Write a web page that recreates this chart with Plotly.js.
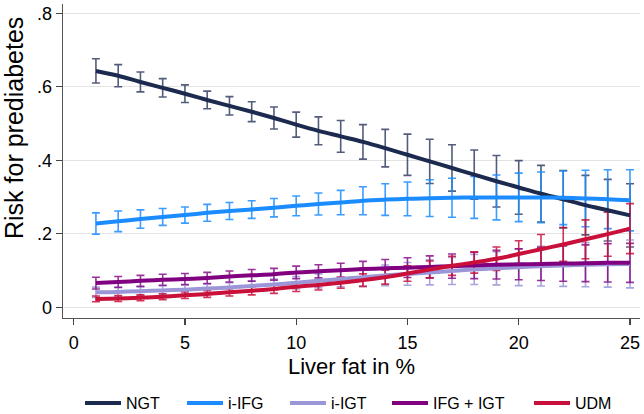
<!DOCTYPE html>
<html>
<head>
<meta charset="utf-8">
<script src="https://cdn.plot.ly/plotly-3.0.1.min.js"></script>
<style>html,body{margin:0;padding:0;background:#fff;}#chart{width:644px;height:414px;}</style>
</head>
<body>
<div id="chart"></div>
<script>
// Liver fat (%) values
const liverFat = [1,2,3,4,5,6,7,8,9,10,11,12,13,14,15,16,17,18,19,20,21,22,23,24,25];

// Predicted risk for each group and 95% CI half-widths
const ngt     = [.643,.630,.613,.597,.581,.564,.548,.532,.515,.497,.480,.465,.450,.433,.415,.397,.379,.361,.343,.326,.309,.294,.278,.264,.250];
const ngtErr  = [.033,.030,.027,.025,.024,.024,.025,.027,.030,.034,.038,.043,.047,.051,.056,.060,.063,.067,.070,.073,.077,.078,.081,.084,.086];

const iIFG    = [.228,.234,.240,.246,.251,.257,.262,.266,.271,.276,.281,.285,.290,.293,.295,.297,.298,.299,.299,.299,.299,.298,.296,.294,.291];
const iIFGErr = [.029,.028,.025,.023,.022,.023,.023,.024,.025,.027,.030,.033,.038,.043,.046,.050,.053,.057,.061,.066,.069,.073,.077,.080,.083];

const iIGT    = [.041,.042,.044,.046,.048,.051,.054,.058,.062,.067,.072,.077,.082,.087,.091,.095,.099,.103,.106,.109,.112,.114,.116,.117,.118];
const iIGTErr = [.014,.013,.012,.012,.012,.012,.013,.014,.015,.017,.019,.021,.025,.028,.031,.034,.037,.041,.045,.050,.054,.057,.060,.062,.065];

const ifgIgt    = [.066,.069,.072,.075,.077,.080,.084,.087,.090,.095,.098,.101,.104,.106,.108,.110,.112,.114,.116,.117,.118,.119,.120,.121,.121];
const ifgIgtErr = [.016,.015,.015,.015,.015,.015,.015,.016,.016,.017,.018,.019,.021,.024,.027,.030,.033,.036,.039,.042,.045,.048,.050,.052,.053];

const udm    = [.023,.024,.026,.029,.033,.036,.041,.045,.050,.056,.061,.067,.074,.082,.092,.103,.113,.122,.132,.145,.158,.171,.185,.199,.214];
const udmErr = [.008,.008,.008,.008,.009,.009,.010,.011,.012,.013,.014,.015,.017,.019,.021,.023,.026,.029,.032,.036,.040,.046,.053,.060,.068];

const groupNames = ['NGT','i-IFG','i-IGT','IFG + IGT','UDM'];
const yTickVals = [0,.2,.4,.6,.8];
const yTickText = ['0','.2','.4','.6','.8'];
const xTickVals = [0,5,10,15,20,25];
const xTitle = 'Liver fat in %';
const yTitle = 'Risk for prediabetes';

const series = [
  {name: groupNames[0], y: ngt,    err: ngtErr,    color: '#1b2a4e', ecolor: 'rgba(40,52,90,0.8)'},
  {name: groupNames[1], y: iIFG,   err: iIFGErr,   color: '#1a8cff', ecolor: 'rgba(26,140,255,0.85)'},
  {name: groupNames[2], y: iIGT,   err: iIGTErr,   color: '#9a96d8', ecolor: 'rgba(154,150,216,0.85)'},
  {name: groupNames[3], y: ifgIgt, err: ifgIgtErr, color: '#800080', ecolor: 'rgba(128,0,128,0.8)'},
  {name: groupNames[4], y: udm,    err: udmErr,    color: '#c8103a', ecolor: 'rgba(200,16,58,0.85)'}
];

const legendIds = ['legend','legend2','legend3','legend4','legend5'];
const legendStartPx = [86, 188, 291, 393, 535];

const traces = [];
series.forEach(s => {
  traces.push({
    x: liverFat, y: s.y, type: 'scatter', mode: 'markers',
    marker: {size: 1, opacity: 0, color: s.color},
    error_y: {type: 'data', array: s.err, visible: true, color: s.ecolor, thickness: 1.6, width: 4},
    showlegend: false, hoverinfo: 'skip'
  });
});
series.forEach((s, i) => {
  traces.push({
    x: liverFat, y: s.y, type: 'scatter', mode: 'lines', name: s.name,
    legend: legendIds[i],
    line: {color: s.color, width: 4, shape: 'spline'}
  });
});

const font = 'Liberation Sans, Arial, sans-serif';
const mL = 63, mR = 4, mT = 4, mB = 96;
const plotW = 644 - mL - mR, plotH = 414 - mT - mB;

const layout = {
  width: 644, height: 414,
  margin: {l: mL, r: mR, t: mT, b: mB, autoexpand: false},
  paper_bgcolor: '#ffffff', plot_bgcolor: '#ffffff',
  font: {family: font, color: '#000'},
  showlegend: true,
  xaxis: {
    range: [-0.48, 25.45], tickvals: xTickVals, ticks: 'outside', ticklen: 6, tickwidth: 1.3,
    tickcolor: '#444', showline: true, linecolor: '#555', linewidth: 1.3, showgrid: false,
    zeroline: false, tickfont: {size: 18}, automargin: false, ticklabelstandoff: 2,
    title: {text: xTitle, font: {size: 22}, standoff: 6}
  },
  yaxis: {
    range: [-0.029, 0.825], tickvals: yTickVals, ticktext: yTickText, ticks: 'outside', ticklen: 6,
    tickwidth: 1.3, tickcolor: '#444', showline: true, linecolor: '#555', linewidth: 1.3,
    showgrid: true, gridcolor: '#e3e3e3', gridwidth: 1, zeroline: false, tickfont: {size: 18},
    automargin: false
  },
  annotations: [{
    text: yTitle, textangle: -90, xref: 'paper', yref: 'paper',
    x: (14 - mL) / plotW, y: (414 - mB - 128) / plotH, xanchor: 'center', yanchor: 'middle',
    showarrow: false, font: {size: 25, family: font, color: '#000'}
  }]
};

legendIds.forEach((id, i) => {
  layout[id] = {
    orientation: 'h', x: (legendStartPx[i] - mL - 6) / plotW, xanchor: 'left',
    y: (414 - mB - 403) / plotH, yanchor: 'middle', bgcolor: 'rgba(0,0,0,0)',
    font: {size: 16, family: font, color: '#000'}, itemwidth: 36
  };
});

Plotly.newPlot('chart', traces, layout, {displayModeBar: false, staticPlot: true});
</script>
</body>
</html>
